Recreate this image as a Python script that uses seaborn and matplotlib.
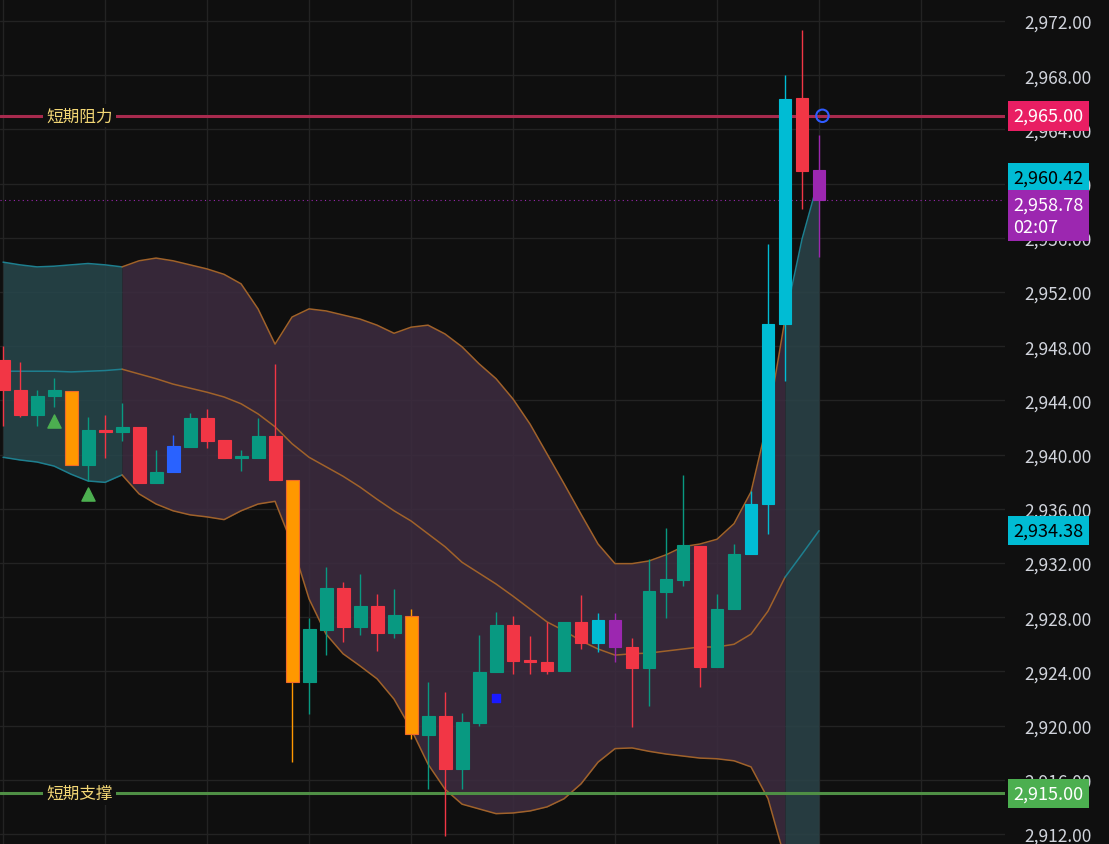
import numpy as np
import pandas as pd
import matplotlib.pyplot as plt
import seaborn as sns

sns.set_style("dark")
plt.rcParams['font.family'] = ['Noto Sans CJK SC', 'DejaVu Sans']

# candle data (O, H, L, C) and colour keys
opens = [2947.0, 2944.8, 2942.9, 2944.3, 2944.7, 2939.2, 2941.75, 2941.65, 2942.0, 2937.9,
         2938.7, 2940.55, 2942.7, 2941.1, 2939.75, 2939.75, 2941.4, 2938.1, 2923.2, 2927.05,
         2930.15, 2927.3, 2928.8, 2926.8, 2928.1, 2919.3, 2920.7, 2916.8, 2920.2, 2923.95,
         2927.4, 2924.85, 2924.7, 2924.0, 2927.65, 2926.1, 2927.8, 2925.8, 2924.25, 2929.85,
         2930.75, 2933.25, 2924.3, 2928.6, 2932.65, 2936.35, 2949.65, 2966.3, 2961.0]
highs = [2948.0, 2946.8, 2944.8, 2945.65, 2944.7, 2942.8, 2942.9, 2943.8, 2942.0, 2940.3,
         2941.45, 2943.05, 2943.35, 2941.1, 2940.3, 2942.7, 2946.7, 2938.1, 2927.95, 2931.7,
         2930.6, 2931.2, 2929.7, 2930.1, 2928.6, 2923.2, 2922.5, 2920.9, 2926.7, 2928.4,
         2928.1, 2926.6, 2927.65, 2927.65, 2929.65, 2928.3, 2928.3, 2926.45, 2932.3, 2934.6,
         2938.5, 2933.25, 2929.7, 2933.4, 2937.3, 2955.55, 2968.0, 2971.35, 2963.6]
lows = [2942.1, 2942.8, 2942.1, 2943.5, 2939.2, 2938.05, 2939.75, 2941.0, 2937.9, 2937.9,
        2938.7, 2940.55, 2940.5, 2939.75, 2938.8, 2939.75, 2938.1, 2917.3, 2920.85, 2925.2,
        2926.2, 2926.7, 2925.5, 2926.45, 2919.0, 2915.3, 2911.85, 2915.3, 2920.0, 2923.95,
        2923.8, 2923.8, 2923.8, 2924.0, 2925.65, 2925.4, 2924.7, 2919.9, 2921.45, 2927.95,
        2930.3, 2922.85, 2924.3, 2928.6, 2932.65, 2934.15, 2945.45, 2958.1, 2954.6]
closes = [2944.8, 2942.9, 2944.3, 2944.8, 2939.2, 2941.8, 2941.65, 2942.0, 2937.9, 2938.7,
          2940.6, 2942.7, 2941.0, 2939.75, 2939.9, 2941.4, 2938.1, 2923.2, 2927.1, 2930.15,
          2927.3, 2928.8, 2926.8, 2928.15, 2919.4, 2920.7, 2916.8, 2920.25, 2923.95, 2927.4,
          2924.8, 2924.7, 2924.0, 2927.65, 2926.1, 2927.8, 2925.8, 2924.25, 2929.9, 2930.8,
          2933.3, 2924.3, 2928.6, 2932.65, 2936.35, 2949.65, 2966.25, 2960.9, 2958.78]
kinds = ['d', 'd', 'u', 'u', 'o', 'u', 'd', 'u', 'd', 'u',
         'b', 'u', 'd', 'd', 'u', 'u', 'd', 'o', 'u', 'u',
         'd', 'u', 'd', 'u', 'o', 'u', 'd', 'u', 'u', 'u',
         'd', 'd', 'd', 'u', 'd', 'c', 'p', 'd', 'u', 'u',
         'u', 'd', 'u', 'u', 'c', 'c', 'c', 'd', 'p']

# bollinger bands
upper = [2954.2, 2954.0, 2953.85, 2953.9, 2954.0, 2954.1, 2954.0, 2953.85, 2954.3, 2954.5,
         2954.3, 2954.0, 2953.7, 2953.3, 2952.6, 2950.75, 2948.15, 2950.15, 2950.75, 2950.6,
         2950.3, 2950.0, 2949.55, 2948.95, 2949.4, 2949.55, 2948.9, 2947.95, 2946.7, 2945.6,
         2944.1, 2942.25, 2940.05, 2937.85, 2935.6, 2933.4, 2931.95, 2931.95, 2932.15, 2932.6,
         2933.2, 2933.4, 2933.75, 2934.9, 2937.25, 2942.6, 2950.0, 2955.9, 2960.42]
middle = [2946.15, 2946.15, 2946.15, 2946.15, 2946.1, 2946.15, 2946.2, 2946.3, 2945.95, 2945.6,
          2945.2, 2944.9, 2944.6, 2944.25, 2943.75, 2943.0, 2942.05, 2940.8, 2939.8, 2939.1,
          2938.4, 2937.6, 2936.7, 2935.85, 2935.1, 2934.15, 2933.2, 2932.05, 2931.25, 2930.45,
          2929.55, 2928.6, 2927.65, 2927.0, 2926.25, 2925.65, 2925.2, 2925.3, 2925.35, 2925.5,
          2925.65, 2925.8, 2925.8, 2926.0, 2926.75, 2928.45, 2930.95, 2932.65, 2934.38]
lower = [2939.8, 2939.6, 2939.45, 2939.15, 2938.55, 2938.05, 2937.95, 2938.5, 2937.1, 2936.35,
         2935.85, 2935.55, 2935.4, 2935.2, 2935.85, 2936.35, 2936.55, 2933.4, 2929.35, 2926.75,
         2925.3, 2924.4, 2923.45, 2921.95, 2919.75, 2917.15, 2915.3, 2914.2, 2913.85, 2913.5,
         2913.55, 2913.7, 2914.0, 2914.6, 2915.7, 2917.3, 2918.3, 2918.35, 2918.1, 2917.9,
         2917.75, 2917.6, 2917.55, 2917.4, 2916.95, 2914.6, 2910.15, 2908.0, 2906.0]

resistance = 2965.0
support = 2915.0
last_price = 2958.78

colors = {'u': '#089981', 'd': '#f23645', 'o': '#ff9800', 'b': '#2962ff',
          'c': '#00bcd4', 'p': '#9c27b0'}
bg = '#0f0f0f'

df = pd.DataFrame({'i': np.arange(len(opens)), 'open': opens, 'high': highs,
                   'low': lows, 'close': closes, 'kind': kinds,
                   'upper': upper, 'middle': middle, 'lower': lower})

fig = plt.figure(figsize=(11.09, 8.45), dpi=100, facecolor=bg)
ax = fig.add_axes([0, 0, 1005 / 1109, 1])
ax.set_facecolor(bg)

# band regions: teal / purple / teal
segments = [(0, 7, '#1e7f8f', '#27474c'), (7, 46, '#a0622a', '#3d2c40'),
            (46, 48, '#1e7f8f', '#2b4449')]
for a, b, lc, fc in segments:
    seg = df.iloc[a:b + 1]
    ax.fill_between(seg['i'], seg['upper'], seg['lower'], color=fc, alpha=0.85, lw=0, zorder=1)
    for col in ['upper', 'middle', 'lower']:
        sns.lineplot(data=seg, x='i', y=col, ax=ax, color=lc, lw=1.1, zorder=2)

# candles
for _, r in df.iterrows():
    c = colors[r['kind']]
    ax.vlines(r['i'], r['low'], r['high'], color=c, lw=1, zorder=3)
    bot = min(r['open'], r['close'])
    h = max(abs(r['close'] - r['open']), 0.15)
    ec = '#f06a2a' if r['kind'] == 'o' else c
    ax.bar(r['i'], h, bottom=bot, width=0.76, color=c, edgecolor=ec, lw=0.8, zorder=4)

# signals
ax.scatter([3, 5], [2942.5, 2937.1], marker='^', s=90, color='#4caf50', zorder=5)
ax.scatter([29], [2922.0], marker='s', s=40, color='#1a1aff', zorder=5)
ax.scatter([48.2], [resistance], marker='o', s=80, facecolors='none',
           edgecolors='#2f5bff', lw=1.5, zorder=5)

# levels
ax.axhline(resistance, color='#a82a4e', lw=2.2, zorder=2.5)
ax.axhline(support, color='#4f8f45', lw=2.2, zorder=2.5)
ax.axhline(last_price, color='#9c27b0', lw=0.8, ls=(0, (1, 3)), zorder=2.5)
for lvl, txt in [(resistance, '短期阻力'), (support, '短期支撑')]:
    ax.text(4.5, lvl, txt, color='#f2d675', fontsize=12, ha='center', va='center', zorder=6,
            bbox=dict(facecolor=bg, edgecolor='none', pad=2))

ax.set_xlim(-0.18, 58.94)
ax.set_ylim(2911.26, 2973.62)
ax.set_xticks(range(0, 60, 6))
ax.set_yticks(np.arange(2912, 2973, 4))
ax.set_yticklabels([f'{v:,.2f}' for v in np.arange(2912, 2973, 4)])
ax.tick_params(axis='x', labelbottom=False, length=0)
ax.tick_params(axis='y', left=False, labelleft=False, right=False, labelright=True,
               length=0, pad=14, colors='#d1d4dc', labelsize=12.5)
ax.grid(True, color='#232323', lw=1)
ax.set_xlabel('')
ax.set_ylabel('')
for s in ax.spines.values():
    s.set_visible(False)

# price badges on the axis
badges = [(resistance, '2,965.00', '#e91e63', 'white'),
          (2960.42, '2,960.42', '#00bcd4', 'black'),
          (2934.38, '2,934.38', '#00bcd4', 'black'),
          (support, '2,915.00', '#4caf50', 'white')]
for v, t, fc, tc in badges:
    ax.annotate(t, xy=(1.0, v), xycoords=('axes fraction', 'data'), xytext=(6, 0),
                textcoords='offset points', ha='left', va='center', fontsize=13,
                color=tc, zorder=10, annotation_clip=False,
                bbox=dict(boxstyle='square,pad=0.32', facecolor=fc, edgecolor='none'))
ax.annotate('2,958.78\n02:07', xy=(1.0, last_price + 0.3), xycoords=('axes fraction', 'data'),
            xytext=(6, 0), textcoords='offset points', ha='left', va='top', fontsize=13,
            color='white', zorder=10, annotation_clip=False, linespacing=1.25,
            bbox=dict(boxstyle='square,pad=0.32', facecolor='#9c27b0', edgecolor='none'))

fig.savefig('out.png', dpi=100, facecolor=bg)
